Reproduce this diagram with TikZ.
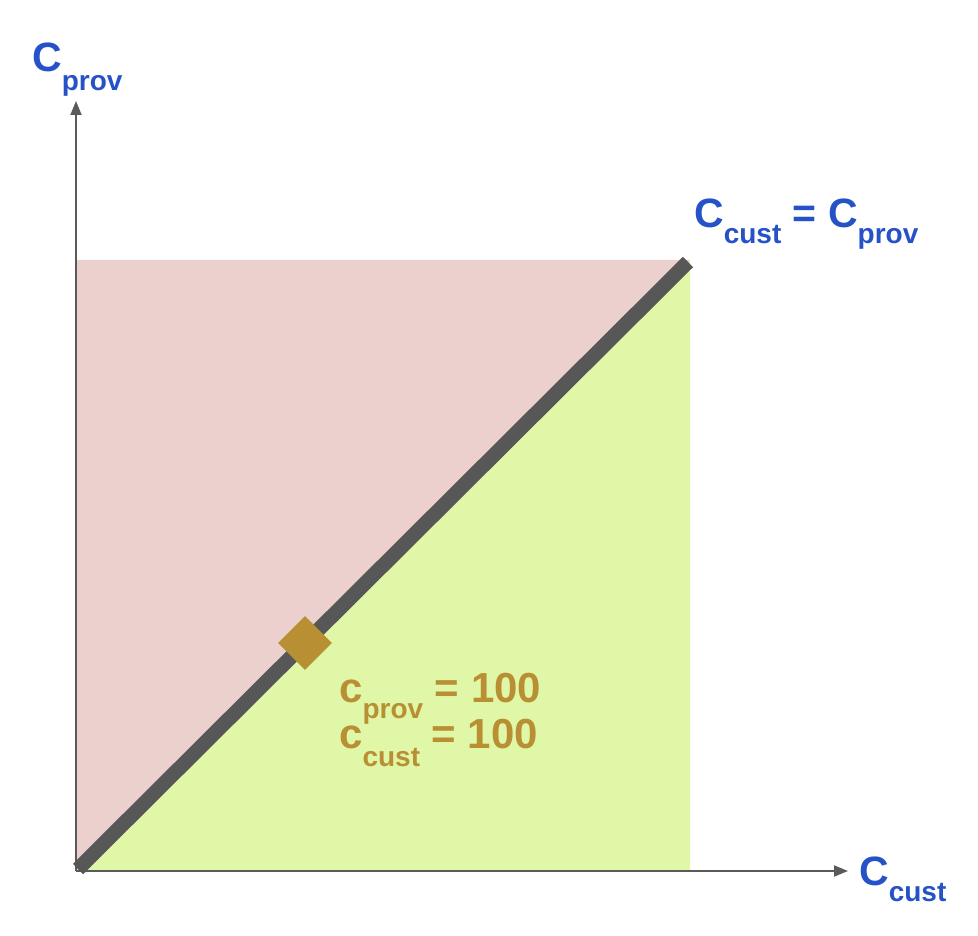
\documentclass[tikz,border=0pt]{standalone}
\usepackage{fontspec}
\setmainfont{Liberation Sans}
\usetikzlibrary{arrows.meta,shapes.geometric}
\definecolor{lblblue}{HTML}{2652C8}
\definecolor{brownish}{HTML}{B98F33}
\definecolor{pinkfill}{HTML}{ECD0CD}
\definecolor{greenfill}{HTML}{E0F7A7}
\definecolor{diaggray}{HTML}{575757}
\definecolor{axisgray}{HTML}{5A5A5A}
\newcommand{\lowsub}[2]{\raisebox{-#1}{\fontsize{28}{28}\selectfont #2}}
\tikzset{
  axisline/.style={draw=axisgray, line width=2pt, -{Triangle[length=14pt,width=11pt]}},
  diagline/.style={draw=diaggray, line width=14.5pt},
  lab/.style={inner sep=0pt, anchor=base west, font=\bfseries\fontsize{41}{41}\selectfont},
  bluelab/.style={lab, text=lblblue},
  brownlab/.style={lab, text=brownish, font=\bfseries\fontsize{42}{42}\selectfont},
  marker/.style={diamond, fill=brownish, inner sep=0pt, minimum width=54pt, minimum height=54pt}
}
\begin{document}
\begin{tikzpicture}[x=1pt,y=-1pt]
\useasboundingbox (0,0) rectangle (978,936);
\coordinate (O) at (76,871);
\coordinate (ytop) at (76,101);
\coordinate (xend) at (848,871);
\coordinate (tl) at (76,260);
\coordinate (tr) at (690,260);
\coordinate (br) at (690,871);
\coordinate (dstart) at (78,869);
\coordinate (dend) at (688,262);
\fill[pinkfill] (tl) -- (tr) -- (O) -- cycle;
\fill[greenfill] (O) -- (tr) -- (br) -- cycle;
\draw[axisline] (O) -- (ytop);
\draw[axisline] (O) -- (xend);
\draw[diagline] (dstart) -- (dend);
\node[marker] (pt) at (305,643) {};
\node[bluelab] (ylab) at (32,72) {C\lowsub{19pt}{prov}};
\node[bluelab] (xlab) at (859,885) {C\lowsub{16pt}{cust}};
\node[bluelab] (eqlab) at (694,228) {C\lowsub{16pt}{cust} = C\lowsub{16pt}{prov}};
\node[brownlab] (v1) at (339,702) {c\lowsub{16pt}{prov} = 100};
\node[brownlab] (v2) at (339,748) {c\lowsub{18pt}{cust} = 100};
\end{tikzpicture}
\end{document}
